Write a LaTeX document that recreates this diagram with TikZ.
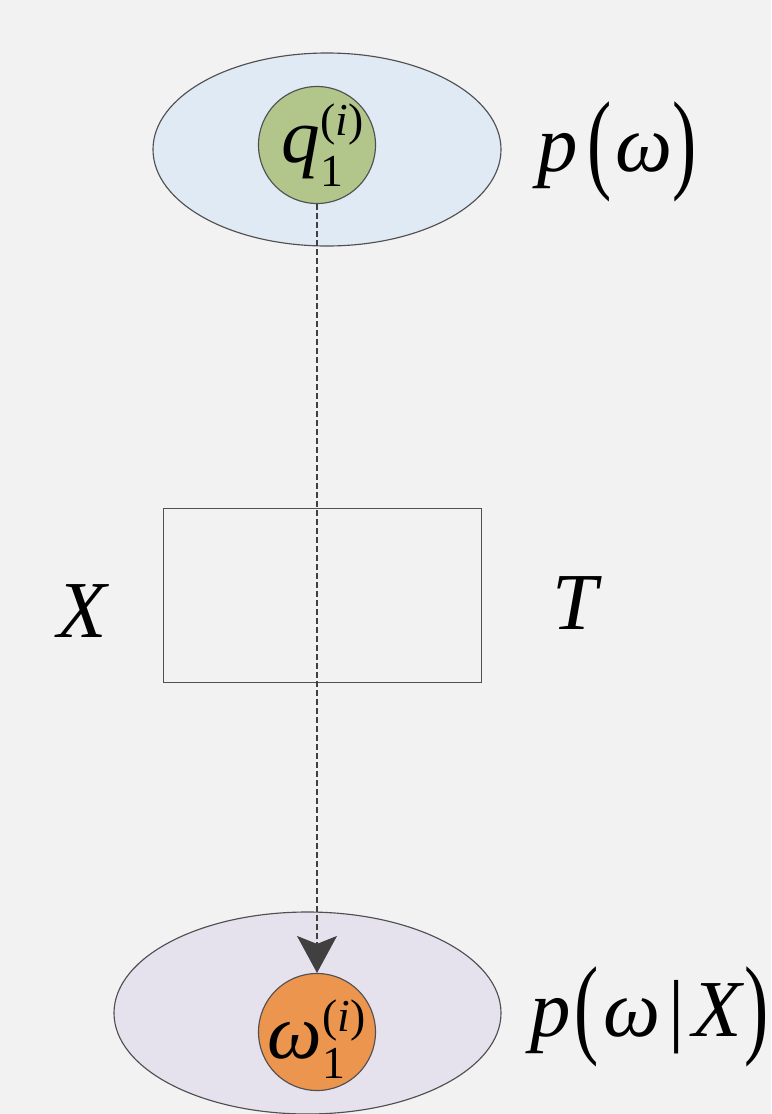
\documentclass[tikz,border=0pt]{standalone}
\usepackage{amsmath}
\usepackage{fontspec}
\setmainfont{Liberation Serif}
\usepackage{tikz}
\usetikzlibrary{arrows.meta,shapes.geometric,positioning}

\definecolor{bgcol}{HTML}{F2F2F2}
\definecolor{priorcol}{HTML}{DFEAF4}
\definecolor{postcol}{HTML}{E5E2EE}
\definecolor{qcol}{HTML}{B2C68B}
\definecolor{wcol}{HTML}{EB954E}
\definecolor{edgecol}{HTML}{505050}
\definecolor{tipcol}{HTML}{404040}

\DeclareMathSizes{44}{44}{26}{18}
\newcommand{\tallparen}[1]{\raisebox{-4pt}{\scalebox{0.9}[1.37]{#1}}}
\newcommand{\scriptpart}[2]{\raisebox{#1}{\fontsize{26}{26}\selectfont #2}}
\newcommand{\sampvar}[1]{$\text{\itshape #1}_{\scriptpart{-1.2mm}{1}}^{\scriptpart{1.5mm}{(\textit{i})}}$}

\begin{document}
\begin{tikzpicture}[
  x=0.2mm, y=-0.2mm,
  >={Stealth[length=7.4mm,width=8mm,inset=1.6mm]},
  distnode/.style={draw=edgecol,ellipse,line width=0.65pt,inner sep=0pt},
  samplenode/.style={draw=edgecol,circle,line width=0.65pt,minimum size=23.4mm,inner sep=-8pt,font=\fontsize{44}{44}\selectfont},
  mathlabel/.style={font=\fontsize{46}{46}\selectfont,inner sep=0pt}
]
\useasboundingbox (0,0) rectangle (771,1114);
\fill[bgcol] (0,0) rectangle (771,1114);
\clip (0,0) rectangle (771,1114);

% ---- prior p(omega) ----
\node[distnode,fill=priorcol,minimum width=69.6mm,minimum height=38.6mm] (prior) at (327,149.5) {};
\node[samplenode,fill=qcol] (qsamp) at (317,145)
  {\hspace*{2.4mm}\sampvar{q}};
\node[mathlabel,anchor=base west] (plabel) at (537,171)
  {\textit{p}\hspace{0.12em}\tallparen{(}\hspace{0.05em}\textit{ω}\tallparen{)}};

% ---- transform T ----
\node[draw=edgecol,line width=0.55pt,minimum width=63.6mm,minimum height=34.8mm] (tbox) at (322,595) {};
\node[mathlabel,anchor=base] (xlabel) at (83,637) {\textit{X}};
\node[mathlabel,anchor=base] (tlabel) at (577,629) {\textit{T}};

% ---- posterior p(omega|X) ----
\node[distnode,fill=postcol,minimum width=77.4mm,minimum height=40.4mm] (post) at (307.5,1013) {};
\node[samplenode,fill=wcol] (wsamp) at (317,1032)
  {\raisebox{-1.5mm}[\height][\depth]{\sampvar{ω}}};
\node[mathlabel,anchor=base west] (pxlabel) at (530,1036)
  {\textit{p}\hspace{0.05em}\tallparen{(}\hspace{0.05em}\textit{ω}\hspace{0.1em}|\hspace{0.1em}\textit{X}\tallparen{)}};

% sample is pushed through T
\draw[->,tipcol,line width=0.6pt,dash pattern=on 1.2mm off 0.6mm] (qsamp) -- (wsamp);

\end{tikzpicture}
\end{document}
